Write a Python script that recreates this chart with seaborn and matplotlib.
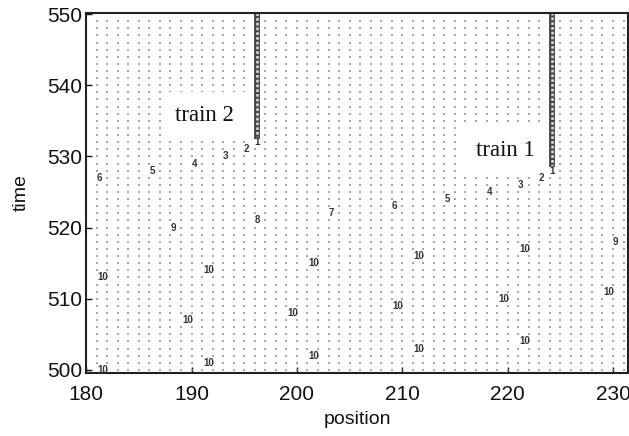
import numpy as np
import pandas as pd
import matplotlib
matplotlib.use('Agg')
import matplotlib.pyplot as plt
import seaborn as sns

# Cells of the lattice that are shown (position x time)
cell_positions = list(range(181, 232))
cell_times = list(range(500, 550))

# Moving vehicles: cell, time step and speed shown as a digit
car_pos = [181, 186, 190, 193, 195, 196,
           188, 196, 203, 209, 214, 218, 221, 223, 224, 230,
           181, 191, 201, 211, 221,
           189, 199, 209, 219, 229,
           181, 191, 201, 211, 221]
car_time = [527, 528, 529, 530, 531, 532,
            520, 521, 522, 523, 524, 525, 526, 527, 528, 518,
            500, 501, 502, 503, 504,
            507, 508, 509, 510, 511,
            513, 514, 515, 516, 517]
car_speed = [6, 5, 4, 3, 2, 1,
             9, 8, 7, 6, 5, 4, 3, 2, 1, 9,
             10, 10, 10, 10, 10,
             10, 10, 10, 10, 10,
             10, 10, 10, 10, 10]

# Stopped trains (speed 0 from this time step to the top)
train_names = ['train 2', 'train 1']
train_pos = [196, 224]
train_stop = [533, 529]
train_label_x = [191.2, 219.8]
train_label_t = [535.8, 530.9]

cars = pd.DataFrame({'position': car_pos, 'time': car_time, 'speed': car_speed})

# empty cells -> dots
grid = pd.DataFrame([(p, t) for t in cell_times for p in cell_positions],
                    columns=['position', 'time'])
occupied = set(zip(car_pos, car_time))
for p, t0 in zip(train_pos, train_stop):
    for t in cell_times:
        if t >= t0:
            occupied.add((p, t))
grid = grid[[(p, t) not in occupied for p, t in zip(grid['position'], grid['time'])]]

sns.set_theme(style='ticks')
plt.rcParams['font.family'] = ['Liberation Sans', 'DejaVu Sans']

fig = plt.figure(figsize=(6.29, 4.36), dpi=100)
ax = fig.add_axes([0.137, 0.145, 0.861, 0.826])

sns.scatterplot(data=grid, x='position', y='time', marker='_', s=4,
                color='#8c8c8c', linewidth=1.1, ax=ax, legend=False, zorder=1)

for p, t, v in zip(cars['position'], cars['time'], cars['speed']):
    off = 0.6 if v >= 10 else 0.25
    ax.text(p + off, t, str(v), ha='center', va='center', fontsize=7,
            fontweight='bold', color='#333333', zorder=3)

# stopped trains drawn as a chain of small circles
for p, t0 in zip(train_pos, train_stop):
    ax.plot([p + 0.2, p + 0.2], [t0 - 0.5, 551], color='#444444', lw=4.2,
            solid_capstyle='butt', zorder=2)
    ax.plot([p + 0.2, p + 0.2], [t0 - 0.5, 551], color='#dddddd', lw=1.8,
            dashes=(1.1, 0.8), zorder=2)

for name, x, t in zip(train_names, train_label_x, train_label_t):
    ax.text(x, t, name, ha='center', va='center', fontsize=16.5,
            family='Liberation Serif', color='#111111', zorder=4,
            bbox=dict(facecolor='white', edgecolor='none', pad=9))

ax.set_xlim(180, 231.4)
ax.set_ylim(499.6, 550.2)
ax.set_xticks([180, 190, 200, 210, 220, 230])
ax.set_yticks([500, 510, 520, 530, 540, 550])
ax.tick_params(direction='in', length=4, width=1, labelsize=15,
               colors='#111111', top=False, right=False)
ax.tick_params(axis='x', pad=9)
ax.tick_params(axis='y', pad=3)
for s in ax.spines.values():
    s.set_visible(True)
    s.set_linewidth(1.5)
    s.set_color('#222222')

ax.set_xlabel('position', fontsize=14, color='#111111', labelpad=5)
ax.set_ylabel('time', fontsize=14, color='#111111', labelpad=12)

fig.savefig('out.png', dpi=100)
